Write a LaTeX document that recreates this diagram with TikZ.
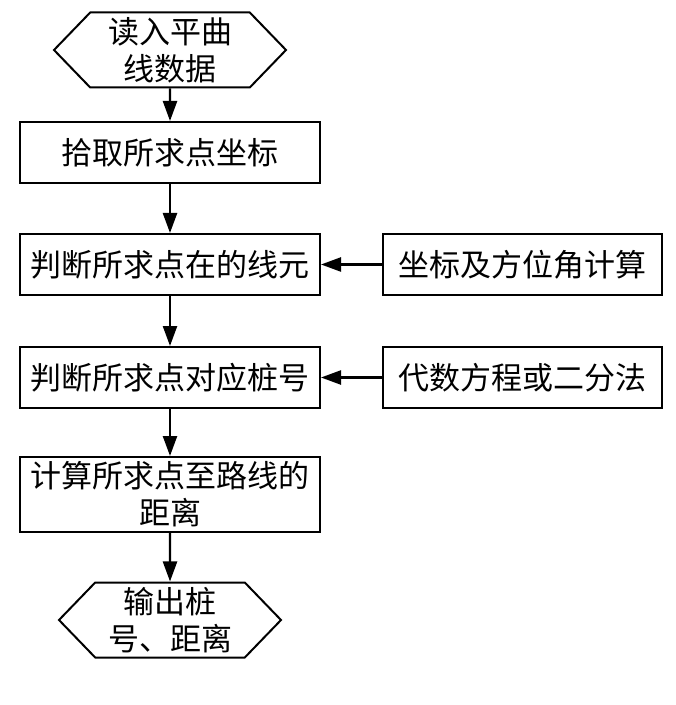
\documentclass[tikz,border=0pt]{standalone}
\usepackage{fontspec}
\newfontfamily\cjk{Noto Sans CJK SC}
\usetikzlibrary{shapes.symbols,arrows.meta}
\tikzset{
  box/.style={draw, line width=1pt, minimum width=150pt, minimum height=30.5pt,
    inner sep=0pt, align=center, font=\cjk\fontsize{15.5}{18.5}\selectfont},
  hexa/.style={box, shape=signal, signal to=east and west, signal pointer angle=92,
    minimum width=116pt, minimum height=37.5pt},
  flow/.style={line width=1.2pt, -{Triangle[length=10pt,width=7pt]}}
}
\begin{document}
\begin{tikzpicture}[x=0.5pt,y=-0.5pt]
  \useasboundingbox (0,0) rectangle (675,705);
  \node [hexa] (read) at (170,50) {读入平曲\\线数据};
  \node [box] (pick) at (170,152.5) {拾取所求点坐标};
  \node [box] (elem) at (170,264.5) {判断所求点在的线元};
  \node [box, minimum width=139.5pt] (azim) at (522.5,264.5) {坐标及方位角计算};
  \node [box] (stake) at (170,377.5) {判断所求点对应桩号};
  \node [box, minimum width=139.5pt] (solve) at (522.5,377.5) {代数方程或二分法};
  \node [box, minimum height=37.5pt] (dist) at (170,494.5) {计算所求点至路线的\\距离};
  \node [hexa, minimum width=111pt] (out) at (170,620) {输出桩\\号、距离};
  \draw [flow] (read) -- (pick);
  \draw [flow] (pick) -- (elem);
  \draw [flow] (elem) -- (stake);
  \draw [flow] (stake) -- (dist);
  \draw [flow] (dist) -- (out);
  \draw [flow] (azim) -- (elem);
  \draw [flow] (solve) -- (stake);
\end{tikzpicture}
\end{document}
